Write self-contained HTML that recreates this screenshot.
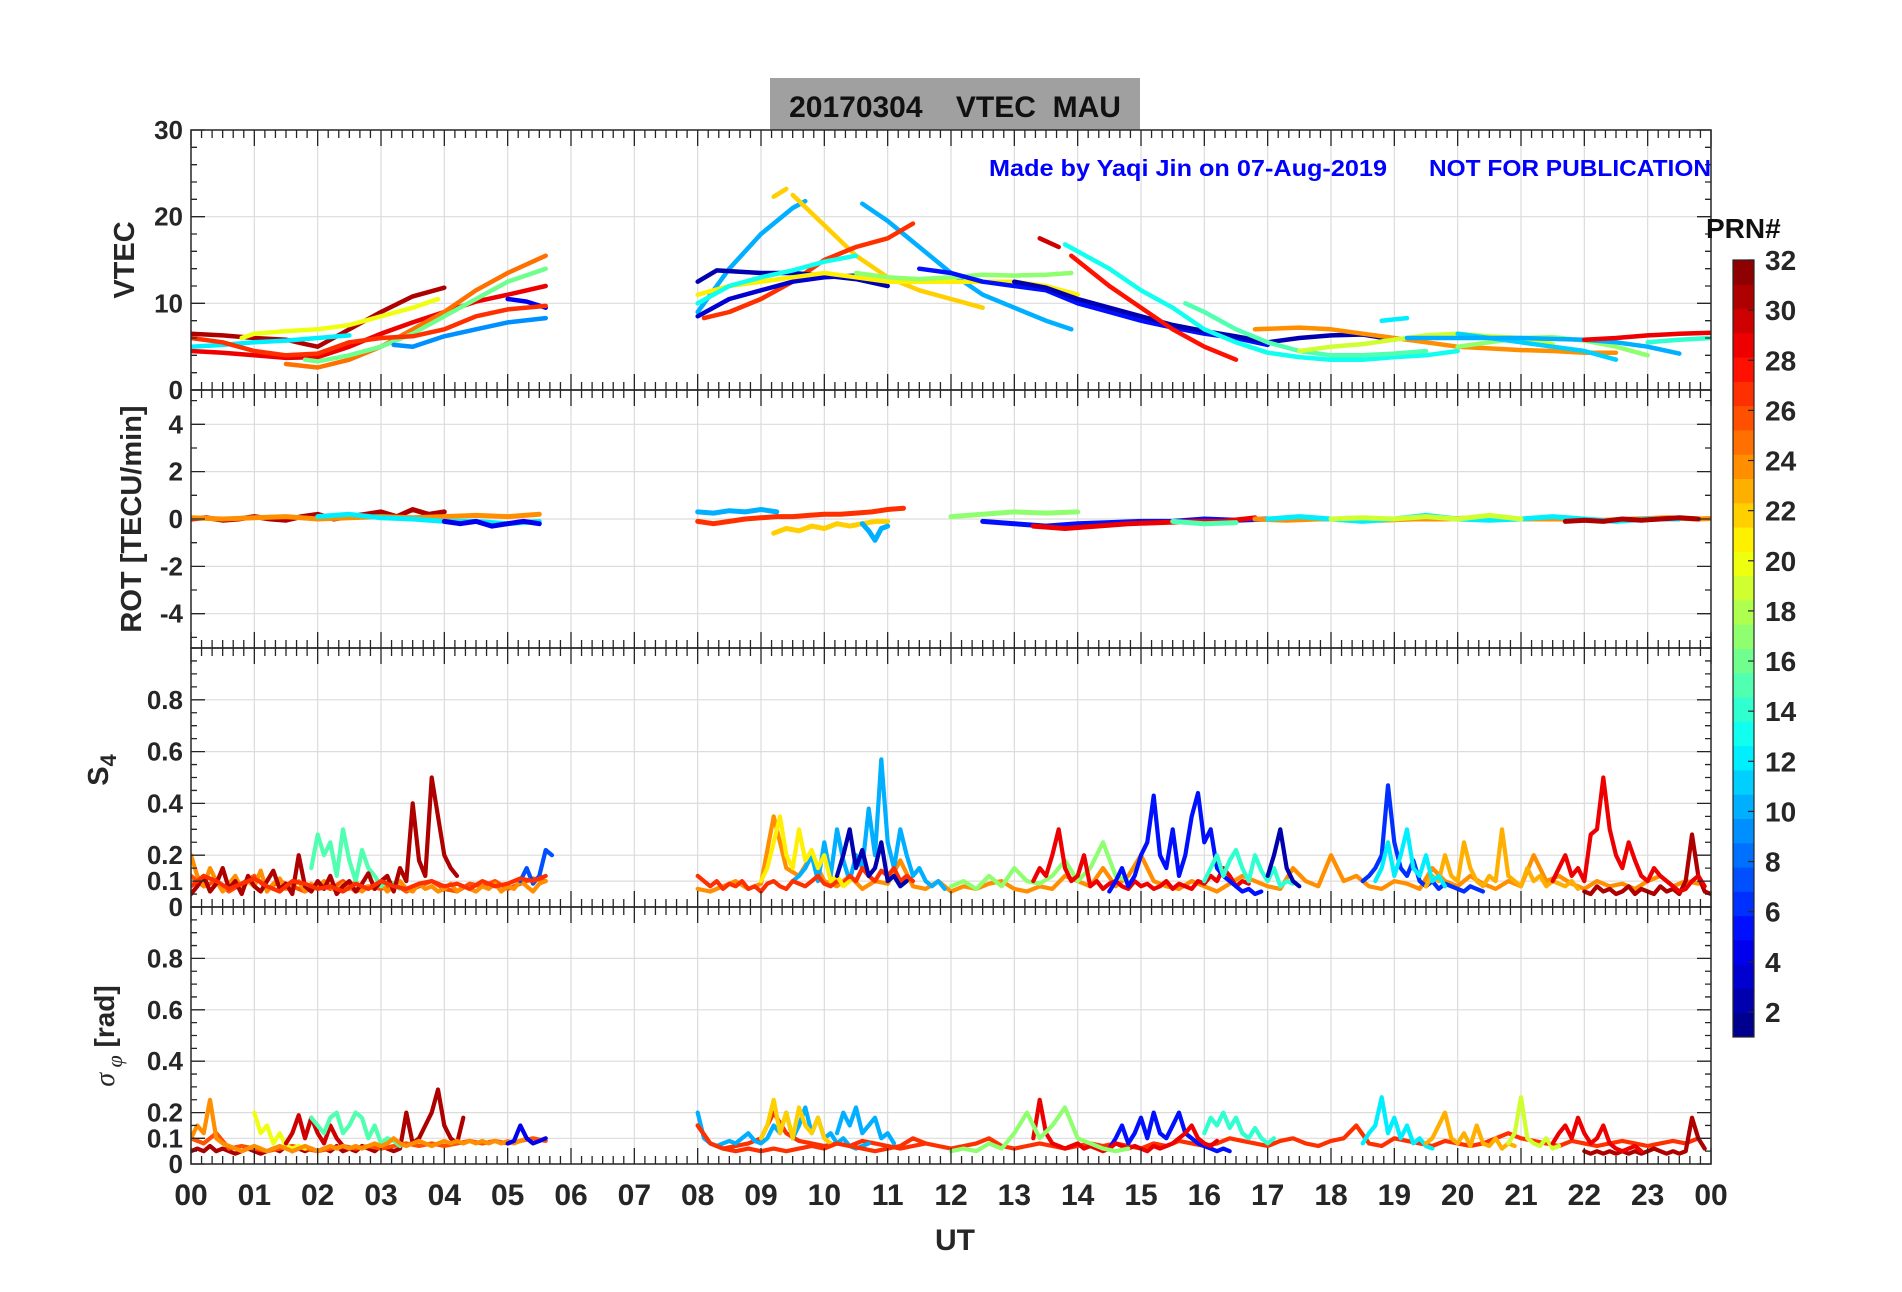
<!DOCTYPE html>
<html><head><meta charset="utf-8"><style>
html,body{margin:0;padding:0;background:#fff;}
svg{display:block;}
text{font-family:"Liberation Sans Narrow","Liberation Sans",sans-serif;font-weight:bold;fill:#262626;white-space:pre;}
.wide{font-family:"Liberation Sans",sans-serif;}
</style></head><body>
<svg id="chart" width="1902" height="1292" viewBox="0 0 1902 1292" xmlns="http://www.w3.org/2000/svg">
<rect x="0" y="0" width="1902" height="1292" fill="#fff"/>
<rect x="770" y="78" width="370" height="52" fill="#a0a0a0"/>
<text x="955" y="117" text-anchor="middle" font-size="30" style="fill:#111" xml:space="preserve">20170304    VTEC  MAU</text>
<g id="panels"></g>
<text class="wide" x="989" y="176" font-size="23" style="fill:#0000ff" textLength="398" lengthAdjust="spacingAndGlyphs">Made by Yaqi Jin on 07-Aug-2019</text>
<text class="wide" x="1429" y="176" font-size="23" style="fill:#0000ff" textLength="282" lengthAdjust="spacingAndGlyphs">NOT FOR PUBLICATION</text>
<text class="wide" x="1706" y="238" font-size="28" style="fill:#111">PRN#</text>
<g id="cbar"></g>
<text x="955" y="1250" text-anchor="middle" font-size="30">UT</text>
</svg>
<script>
// ---- layout (pixels) ----
const L = 191, R = 1711;
const NS = "http://www.w3.org/2000/svg";
// ---- data ----
const xTickLabels = ["00","01","02","03","04","05","06","07","08","09","10","11","12","13","14","15","16","17","18","19","20","21","22","23","00"];
const vtecTicks = [0,10,20,30];
const rotTicks = [-4,-2,0,2,4];
const s4Ticks = [0,0.1,0.2,0.4,0.6,0.8];
const sigTicks = [0,0.1,0.2,0.4,0.6,0.8];
const cbarTicks = [2,4,6,8,10,12,14,16,18,20,22,24,26,28,30,32];

// VTEC series
const vtecPrn = [31,29,25,16,20,12,9,4,27, 10,22,22,10,27,2,3,21,17,13,5,2,30,28,13,15,24,19,17,11,10,29,14,12];
const vtecT = [
 [0,0.5,1,1.5,1.8,2,2.5,3,3.5,4],
 [0,0.5,1,1.5,2,2.5,3,3.5,4,4.5,5,5.6],
 [1.5,2,2.5,3,3.5,4,4.5,5,5.6],
 [1.8,2,2.5,3,3.5,4,4.5,5,5.6],
 [0.8,1,1.5,2,2.5,3,3.5,3.9],
 [0,0.5,1,1.5,2,2.5],
 [3.2,3.5,4,4.5,5,5.6],
 [5,5.3,5.6],
 [0,0.5,1,1.5,2,2.5,3,3.5,4,4.5,5,5.6],
 [8,8.5,9,9.5,9.7],
 [9.2,9.4],
 [9.5,10,10.5,11,11.5,12,12.5],
 [10.6,11,11.5,12,12.5,13,13.5,13.9],
 [8.1,8.5,9,9.5,10,10.5,11,11.4],
 [8,8.3,9,9.5,10,10.5,11],
 [8,8.5,9,9.5,10,10.5],
 [8,8.5,9,9.5,10,10.5,11,11.5,12,12.5,13,13.5,14],
 [10.5,11,11.5,12,12.5,13,13.5,13.9],
 [8,8.5,9,9.5,10,10.5],
 [11.5,12,12.5,13,13.5,14,14.5,15,15.5,16,16.5,17],
 [13,13.5,14,14.5,15,15.5,16,16.5,17,17.5,18,18.5,19],
 [13.4,13.7],
 [13.9,14.5,15,15.5,16,16.5],
 [13.8,14.5,15,15.5,16,16.5,17,17.5,18,18.5,19,19.5,20],
 [15.7,16,16.5,17,17.5,18,18.5,19,19.5],
 [16.8,17.5,18,18.5,19,19.5,20,20.5,21,21.5,22,22.5],
 [17.5,18,18.5,19,19.5,20,20.5,21,21.5],
 [20,20.5,21,21.5,22,22.5,23],
 [20,20.5,21,21.5,22,22.5],
 [19.2,20,21,22,22.5,23,23.5],
 [22,22.5,23,23.5,24],
 [23,23.5,24],
 [18.8,19.2]
];
const vtecV = [
 [6.5,6.3,6,5.8,5.3,5,7,9,10.8,11.8],
 [4.5,4.3,4,3.7,3.8,5,6.5,7.8,9,10.2,11,12],
 [3,2.6,3.5,5,7,9,11.5,13.5,15.5],
 [3.5,3.3,4,5,6.5,8.5,10.5,12.5,14],
 [6,6.5,6.8,7,7.5,8.5,9.5,10.5],
 [5,5.2,5.5,5.7,6,6.3],
 [5.2,5,6.2,7,7.8,8.3],
 [10.5,10.2,9.5],
 [6,5.5,4.5,4,4.2,5.5,6,6.2,7,8.5,9.3,9.7],
 [9,14,18,21,21.8],
 [22.3,23.2],
 [22.5,19,15.5,13,11.5,10.5,9.5],
 [21.5,19.5,16.5,13.5,11,9.5,8,7],
 [8.3,9,10.5,12.5,15,16.5,17.5,19.2],
 [12.5,13.8,13.5,13.5,13.2,12.8,12],
 [8.5,10.5,11.5,12.5,13,13.2],
 [11,12,12.5,13,13.5,13,12.5,12.5,12.5,12.5,12.5,12,11],
 [13.5,13,12.8,13,13.3,13.2,13.3,13.5],
 [10,12,13,13.8,14.8,15.5],
 [14,13.5,12.5,12,11.5,10,9,8,7.2,6.5,6,5.2],
 [12.5,11.8,10.5,9.5,8.5,7.5,6.8,6.2,5.5,6,6.3,6.4,5.8],
 [17.5,16.5],
 [15.5,12,9.5,7,5,3.5],
 [16.8,14,11.5,9.5,7,5.5,4.3,3.8,3.5,3.5,3.8,4,4.5],
 [10,9,7,5.5,4.5,4,4,4.2,4.5],
 [7,7.2,7,6.5,6,5.5,5,4.8,4.6,4.5,4.3,4.3],
 [4.5,5,5.3,5.8,6.3,6.5,6.2,6,5.3],
 [5,5.5,6,6.1,5.7,5,4],
 [6.5,6,5.5,5,4.5,3.5],
 [6,6,6,5.8,5.5,5,4.2],
 [5.8,6,6.3,6.5,6.6],
 [5.5,5.8,6],
 [8,8.3]
];

// ROT series: prn, start hour, step, values
const rotPrn = [31,24,12,4,10,27,22,10,17,5,29,15,24,12,31,19];
const rotStart = [0,0,2,4,8,8,9.2,10.6,12,12.5,13.3,15.5,16.8,17,21.7,18];
const rotStep = [0.25,0.5,0.5,0.25,0.25,0.25,0.2,0.1,0.5,0.5,0.5,0.5,0.5,0.5,0.3,0.5];
const rotVals = [
 [0,0.05,-0.05,0,0.1,0,-0.05,0.1,0.2,0,0.1,0.2,0.3,0.1,0.4,0.2,0.3],
 [0.05,0,0.05,0.1,0,0.05,0.1,0.05,0.1,0.15,0.1,0.2],
 [0.1,0.2,0.05,0,-0.1,-0.1,-0.2,-0.1],
 [-0.1,-0.2,-0.1,-0.3,-0.2,-0.1,-0.2],
 [0.3,0.25,0.35,0.3,0.4,0.3],
 [-0.1,-0.2,-0.1,0,0.05,0.1,0.1,0.15,0.2,0.2,0.25,0.3,0.4,0.45],
 [-0.6,-0.4,-0.5,-0.3,-0.4,-0.2,-0.3,-0.2,-0.1,-0.1],
 [-0.2,-0.5,-0.9,-0.4,-0.3],
 [0.1,0.2,0.3,0.25,0.3],
 [-0.1,-0.2,-0.3,-0.2,-0.15,-0.1,-0.1,0,-0.05,0],
 [-0.3,-0.4,-0.3,-0.2,-0.15,-0.1,-0.1,0.05],
 [-0.1,-0.2,-0.15],
 [0,-0.05,0,0,-0.05,0,0,0.05,0,0,0,-0.05,0,0.05,0,0.05],
 [0,0.1,0,-0.1,0,0.15,0,-0.05,0,0.1,0,-0.1,0,0],
 [-0.1,-0.05,-0.1,0,-0.05,0,0.05,0],
 [0,0.05,0,0.1,0,0.15,0]
];

// S4 series
const s4Prn = [26,24,15,31,7,27,24,10,27,21,2,17,29,5,14,6,23,12,31,29,2];
const s4Start = [0,0,1.9,0,5.2,0,8,9.5,8,9,10.2,12,13.3,14.5,16,18.5,19.5,18.7,22,21.5,17];
const s4Step = [0.2,0.1,0.1,0.1,0.1,0.2,0.2,0.1,0.1,0.1,0.1,0.2,0.1,0.1,0.1,0.1,0.1,0.1,0.1,0.1,0.1];
const s4Vals = [
 [0.12,0.08,0.1,0.06,0.09,0.12,0.07,0.1,0.08,0.06,0.09,0.07,0.1,0.06,0.08,0.07,0.09,0.06,0.08,0.1,0.07,0.06,0.09,0.08,0.1,0.07,0.09,0.11,0.1],
 [0.2,0.12,0.08,0.15,0.1,0.06,0.09,0.12,0.07,0.1,0.08,0.14,0.06,0.09,0.11,0.07,0.08,0.1,0.06,0.09,0.07,0.1,0.08,0.06,0.09,0.07,0.1,0.06,0.08,0.07,0.09,0.06,0.08,0.1,0.07,0.06,0.09,0.07,0.08,0.06,0.07,0.09,0.06,0.08,0.07,0.06,0.08,0.07,0.09,0.06,0.08,0.07,0.1,0.08,0.06,0.09,0.1],
 [0.15,0.28,0.2,0.25,0.12,0.3,0.18,0.1,0.22,0.15,0.12,0.08,0.1,0.09,0.07],
 [0.05,0.08,0.12,0.06,0.09,0.15,0.07,0.1,0.05,0.12,0.08,0.06,0.1,0.14,0.07,0.09,0.05,0.2,0.08,0.06,0.1,0.07,0.12,0.05,0.08,0.1,0.06,0.09,0.13,0.07,0.1,0.12,0.06,0.15,0.1,0.4,0.18,0.12,0.5,0.35,0.2,0.15,0.12],
 [0.1,0.15,0.09,0.12,0.22,0.2],
 [0.08,0.12,0.1,0.07,0.09,0.11,0.08,0.06,0.1,0.09,0.07,0.08,0.06,0.09,0.07,0.1,0.08,0.07,0.09,0.1,0.08,0.09,0.07,0.1,0.08,0.09,0.11,0.1,0.12],
 [0.07,0.06,0.08,0.1,0.07,0.09,0.35,0.15,0.12,0.2,0.1,0.08,0.12,0.07,0.1,0.09,0.18,0.08,0.07,0.1,0.06,0.08,0.07,0.09,0.1,0.07,0.06,0.08,0.07,0.12,0.1,0.08,0.15,0.08,0.12,0.2,0.1,0.08,0.07,0.1,0.08,0.06,0.09,0.12,0.1,0.08,0.07,0.15,0.1,0.08,0.2,0.1,0.12,0.08,0.07,0.1,0.09,0.07,0.15,0.1,0.08,0.12,0.09,0.07,0.1,0.08,0.2,0.1,0.12,0.09,0.07,0.1,0.08,0.09,0.07,0.1,0.12,0.08,0.1,0.09],
 [0.1,0.12,0.15,0.2,0.1,0.25,0.12,0.3,0.18,0.1,0.2,0.15,0.38,0.2,0.57,0.25,0.15,0.3,0.2,0.12,0.15,0.1,0.08,0.1,0.07],
 [0.12,0.1,0.08,0.1,0.07,0.09,0.08,0.1,0.07,0.08,0.06,0.09,0.1,0.08,0.07,0.1,0.09,0.08,0.1,0.12,0.09,0.08,0.1,0.09,0.12,0.1,0.15,0.12,0.1,0.14,0.12,0.15,0.1,0.12,0.1],
 [0.1,0.15,0.25,0.35,0.2,0.15,0.3,0.18,0.22,0.15,0.2,0.1,0.12,0.08,0.1],
 [0.12,0.2,0.3,0.15,0.22,0.12,0.15,0.25,0.1,0.12,0.08,0.1],
 [0.08,0.1,0.07,0.12,0.08,0.15,0.1,0.09,0.12,0.18,0.1,0.15,0.25,0.12,0.1],
 [0.1,0.15,0.12,0.2,0.3,0.15,0.1,0.12,0.2,0.08,0.1,0.07,0.09,0.1,0.08,0.07,0.1,0.08,0.09,0.07,0.08,0.1,0.07,0.09,0.08,0.07,0.1,0.09,0.12,0.1,0.15,0.12,0.08,0.1,0.09],
 [0.06,0.1,0.15,0.08,0.12,0.2,0.25,0.43,0.2,0.15,0.3,0.12,0.2,0.35,0.44,0.25,0.3,0.15,0.12,0.1,0.08,0.06,0.07,0.05,0.06],
 [0.1,0.15,0.2,0.12,0.18,0.22,0.15,0.1,0.2,0.14,0.1,0.15,0.08,0.1,0.09],
 [0.1,0.12,0.15,0.2,0.47,0.25,0.15,0.12,0.18,0.1,0.08,0.1,0.07,0.09,0.08,0.07,0.06,0.08,0.07,0.06],
 [0.08,0.12,0.1,0.2,0.12,0.1,0.25,0.15,0.1,0.08,0.12,0.1,0.3,0.12,0.1,0.08,0.15,0.1,0.12,0.08,0.1,0.09,0.08,0.1,0.07],
 [0.1,0.15,0.25,0.12,0.2,0.3,0.15,0.12,0.2,0.1,0.12,0.08],
 [0.06,0.05,0.08,0.06,0.07,0.05,0.06,0.08,0.05,0.07,0.06,0.05,0.08,0.06,0.07,0.05,0.1,0.28,0.12,0.06,0.05],
 [0.1,0.15,0.2,0.12,0.15,0.1,0.28,0.3,0.5,0.3,0.2,0.15,0.25,0.18,0.12,0.1,0.15,0.12,0.1,0.08,0.06,0.07,0.1,0.12,0.08],
 [0.12,0.2,0.3,0.15,0.1,0.08]
];

// Sigma-phi series
const sigPrn = [31,26,20,30,15,24,27,4,10,22,10,27,5,29,17,12,14,23,19,31,29];
const sigStart = [0,0,1,1.5,1.9,0,8,5,8,9,10.2,8,14.5,13.3,12,18.5,16,19.5,20.8,22,21.5];
const sigStep = [0.1,0.2,0.1,0.1,0.1,0.1,0.2,0.1,0.1,0.1,0.1,0.2,0.1,0.1,0.2,0.1,0.1,0.1,0.1,0.1,0.1];
const sigVals = [
 [0.05,0.06,0.05,0.07,0.05,0.06,0.05,0.04,0.05,0.06,0.05,0.04,0.05,0.06,0.05,0.07,0.05,0.06,0.05,0.06,0.05,0.06,0.05,0.07,0.05,0.06,0.05,0.07,0.06,0.05,0.07,0.06,0.05,0.06,0.2,0.08,0.1,0.15,0.2,0.29,0.15,0.1,0.08,0.18],
 [0.1,0.08,0.12,0.06,0.07,0.06,0.05,0.06,0.07,0.06,0.05,0.06,0.07,0.06,0.07,0.06,0.07,0.08,0.07,0.08,0.07,0.08,0.09,0.08,0.09,0.08,0.09,0.1,0.09],
 [0.2,0.12,0.15,0.08,0.12,0.07,0.06,0.07,0.06],
 [0.08,0.12,0.19,0.1,0.18,0.12,0.08,0.15,0.1,0.07],
 [0.18,0.15,0.12,0.18,0.2,0.12,0.15,0.2,0.18,0.1,0.15,0.08,0.1,0.09,0.07],
 [0.1,0.15,0.12,0.25,0.1,0.08,0.07,0.06,0.05,0.06,0.07,0.06,0.05,0.06,0.07,0.06,0.05,0.06,0.07,0.06,0.05,0.06,0.07,0.06,0.07,0.06,0.07,0.06,0.07,0.08,0.07,0.08,0.1,0.08,0.07,0.08,0.09,0.08,0.07,0.08,0.09,0.08,0.09,0.08,0.09,0.08,0.09,0.08,0.09,0.08,0.09,0.08,0.09,0.1,0.08,0.09,0.1],
 [0.15,0.08,0.06,0.07,0.08,0.1,0.2,0.12,0.09,0.08,0.07,0.08,0.07,0.09,0.08,0.07,0.06,0.07,0.08,0.07,0.06,0.07,0.08,0.1,0.07,0.06,0.07,0.08,0.07,0.06,0.07,0.08,0.07,0.08,0.07,0.06,0.08,0.07,0.09,0.08,0.07,0.08,0.1,0.09,0.08,0.07,0.09,0.1,0.08,0.07,0.09,0.1,0.15,0.08,0.07,0.1,0.09,0.08,0.07,0.09,0.08,0.07,0.08,0.1,0.12,0.1,0.09,0.08,0.07,0.09,0.08,0.07,0.08,0.09,0.08,0.07,0.08,0.09,0.08,0.1],
 [0.08,0.09,0.15,0.1,0.08,0.09,0.1],
 [0.2,0.1,0.08,0.07,0.08,0.09,0.08,0.1,0.12,0.09,0.08,0.1,0.15,0.12,0.2,0.1,0.15,0.22,0.12,0.18,0.1,0.12,0.08,0.1,0.07,0.06,0.07,0.08],
 [0.1,0.15,0.25,0.12,0.2,0.1,0.22,0.15,0.12,0.18,0.1,0.08],
 [0.12,0.2,0.15,0.22,0.12,0.15,0.18,0.1,0.12,0.08],
 [0.15,0.08,0.06,0.05,0.06,0.05,0.06,0.05,0.06,0.07,0.06,0.08,0.07,0.06,0.05,0.06,0.07,0.1,0.08],
 [0.06,0.1,0.15,0.08,0.12,0.18,0.1,0.2,0.12,0.1,0.15,0.2,0.12,0.1,0.08,0.07,0.06,0.05,0.06,0.05],
 [0.1,0.25,0.12,0.08,0.07,0.06,0.07,0.08,0.06,0.07,0.06,0.05,0.06,0.08,0.07,0.06,0.07,0.06,0.05,0.07,0.06,0.07,0.08,0.1,0.12,0.15,0.1,0.08,0.07,0.09],
 [0.05,0.06,0.05,0.08,0.06,0.12,0.2,0.1,0.15,0.22,0.1,0.08,0.06,0.05,0.06],
 [0.08,0.12,0.15,0.26,0.12,0.18,0.1,0.15,0.08,0.1,0.07,0.06],
 [0.12,0.18,0.15,0.2,0.14,0.18,0.12,0.1,0.14,0.1,0.08,0.1],
 [0.08,0.1,0.15,0.2,0.1,0.08,0.12,0.07,0.15,0.08,0.07,0.1,0.06,0.08,0.07],
 [0.08,0.12,0.26,0.1,0.08,0.07,0.1,0.06,0.07],
 [0.05,0.04,0.05,0.04,0.05,0.04,0.05,0.04,0.05,0.04,0.05,0.06,0.05,0.04,0.05,0.04,0.05,0.18,0.1,0.06],
 [0.08,0.12,0.15,0.1,0.18,0.12,0.08,0.1,0.15,0.08,0.06,0.05,0.06,0.07,0.05]
];

// ---- helpers ----
function jet(v){
  const r = Math.min(1,Math.max(0,1.5-Math.abs(4*v-3)));
  const g = Math.min(1,Math.max(0,1.5-Math.abs(4*v-2)));
  const b = Math.min(1,Math.max(0,1.5-Math.abs(4*v-1)));
  return `rgb(${Math.round(r*255)},${Math.round(g*255)},${Math.round(b*255)})`;
}
function prnColor(p){ return jet((p-0.5)/32); }
function el(tag, attrs, parent){
  const e = document.createElementNS(NS, tag);
  for (const k in attrs) e.setAttribute(k, attrs[k]);
  parent.appendChild(e); return e;
}
const xScale = h => L + (R-L)*h/24;

const root = document.getElementById('panels');
const panels = [
 {name:'vtec', top:130, bot:390, min:0, max:30, ticks:vtecTicks, minor:2},
 {name:'rot', top:390, bot:648, min:-5.45, max:5.45, ticks:rotTicks, minor:1},
 {name:'s4', top:648, bot:907, min:0, max:1, ticks:s4Ticks, minor:0.05},
 {name:'sigma', top:907, bot:1164, min:0, max:1, ticks:sigTicks, minor:0.05}
];

panels.forEach((p, pi) => {
  const g = el('g', {}, root);
  
  
  const yS = v => p.bot - (p.bot-p.top)*(v-p.min)/(p.max-p.min);
  p.yS = yS;
  for (let h=1; h<24; h++){
    const ln = el('line', {x1:xScale(h), x2:xScale(h), y1:p.top, y2:p.bot, stroke:'#dcdcdc', 'stroke-width':1.2}, g);
    
    
  }
  p.ticks.forEach(t => {
    const ln = el('line', {x1:L, x2:R, y1:yS(t), y2:yS(t), stroke:'#dcdcdc', 'stroke-width':1.2}, g);
    
    
  });
  const cp = el('clipPath', {id:'clip'+pi}, g);
  el('rect', {x:L, y:p.top, width:R-L, height:p.bot-p.top}, cp);
  const series = el('g', {'clip-path':`url(#clip${pi})`}, g);
  
  
  p.series = series;
  const fr = el('rect', {x:L, y:p.top, width:R-L, height:p.bot-p.top, fill:'none', stroke:'#262626', 'stroke-width':1.5}, g);
  
  
  let d = '';
  for (let m=0; m<=24*6; m++){
    const x = xScale(m/6);
    const len = (m%6===0) ? 16 : 8;
    d += `M${x},${p.bot}v${-len}M${x},${p.top}v${len}`;
  }
  for (let v=p.min; v<=p.max+1e-9; v+=p.minor){
    const vv = Math.round(v/p.minor)*p.minor;
    if (vv<p.min-1e-9) continue;
    d += `M${L},${yS(vv)}h6M${R},${yS(vv)}h-6`;
  }
  p.ticks.forEach(t => { d += `M${L},${yS(t)}h14M${R},${yS(t)}h-14`; });
  const tk = el('path', {d:d, stroke:'#262626', 'stroke-width':1.3, fill:'none'}, g);
  
  
  p.ticks.forEach(t => {
    const tx = el('text', {x:L-8, y:yS(t)+9, 'text-anchor':'end', 'font-size':26}, g);
    tx.textContent = (p.name==='s4'||p.name==='sigma') ? (t===0?'0':t.toFixed(1)) : String(t);
    
    
  });
});

xTickLabels.forEach((lab, i) => {
  const t = el('text', {x:xScale(i), y:1205, 'text-anchor':'middle', 'font-size':30}, root);
  t.textContent = lab;
  
  
});

function ytitle(txt, x, y, name){
  const t = el('text', {x:x, y:y, 'text-anchor':'middle', 'font-size':29, class:'wide', transform:`rotate(-90 ${x} ${y})`}, root);
  t.textContent = txt;
  
  
  return t;
}
ytitle('VTEC', 134, 260, 'vtec-axis-title');
ytitle('ROT [TECU/min]', 141, 519, 'rot-axis-title');
const s4t = ytitle('S', 108, 770, 's4-axis-title');
const s4sub = el('tspan', {'font-size':22, dy:8}, s4t); s4sub.textContent = '4';
const sgt = el('text', {x:114, y:1036, 'text-anchor':'middle', 'font-size':28, class:'wide', transform:'rotate(-90 114 1036)'}, root);


const s1 = el('tspan', {'font-family':'Liberation Serif, serif','font-style':'italic','font-weight':'normal'}, sgt); s1.textContent = 'σ';
const s2 = el('tspan', {'font-family':'Liberation Serif, serif','font-style':'italic','font-weight':'normal','font-size':22, dy:8}, sgt); s2.textContent = ' φ';
const s3 = el('tspan', {dy:-8}, sgt); s3.textContent = ' [rad]';

function drawLine(p, ts, vs, prn, width, name){
  let d = '';
  ts.forEach((t, i) => { d += (i?'L':'M') + xScale(t).toFixed(1) + ',' + p.yS(vs[i]).toFixed(1); });
  const path = el('path', {d:d, fill:'none', stroke:prnColor(prn), 'stroke-width':width, 'stroke-linejoin':'round', 'stroke-linecap':'round'}, p.series);
  
  
}
vtecPrn.forEach((prn, i) => drawLine(panels[0], vtecT[i], vtecV[i], prn, 4.5, 'vtec-line-prn' + prn));
function drawStep(p, prns, starts, steps, vals, name, w){
  prns.forEach((prn, i) => {
    const ts = vals[i].map((_, k) => starts[i] + k*steps[i]);
    drawLine(p, ts, vals[i], prn, w, name + '-prn' + prn);
  });
}
drawStep(panels[1], rotPrn, rotStart, rotStep, rotVals, 'rot-line', 5);
drawStep(panels[2], s4Prn, s4Start, s4Step, s4Vals, 's4-line', 4.2);
drawStep(panels[3], sigPrn, sigStart, sigStep, sigVals, 'sigma-line', 4.2);

// colorbar: range 1..32, 32 at top edge
const cb = document.getElementById('cbar');


const cbTop = 260, cbBot = 1037, cbX = 1733, cbW = 21;
const cbY = v => cbTop + (cbBot-cbTop)*(32-v)/31;
for (let p=1; p<=32; p++){
  const lo = 1 + (p-1)*31/32, hi = 1 + p*31/32;
  const r = el('rect', {x:cbX, y:cbY(hi), width:cbW, height:cbY(lo)-cbY(hi)+0.5, fill:prnColor(p)}, cb);
  
  
}
el('rect', {x:cbX, y:cbTop, width:cbW, height:cbBot-cbTop, fill:'none', stroke:'#262626', 'stroke-width':1.2}, cb);
cbarTicks.forEach(t => {
  el('line', {x1:cbX+cbW-6, x2:cbX+cbW, y1:cbY(t), y2:cbY(t), stroke:'#262626', 'stroke-width':1.2}, cb);
  const tx = el('text', {x:1765, y:cbY(t)+10, 'font-size':28, class:'wide'}, cb);
  tx.textContent = String(t);
  
  
});
</script>
</body></html>
